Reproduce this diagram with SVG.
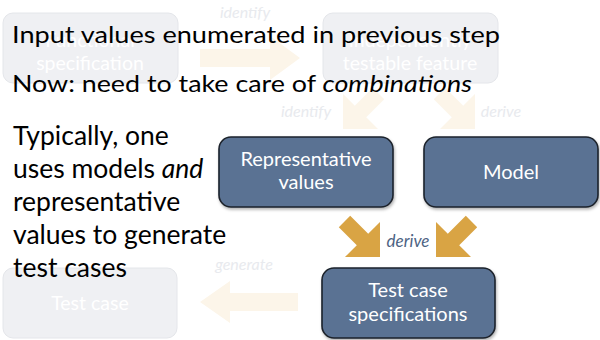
<svg xmlns="http://www.w3.org/2000/svg" width="600" height="340" viewBox="0 0 600 340">
<style>
.fbox{fill:#eff0f3;stroke:#e4e6ea;stroke-width:1}
.ftxt{fill:#ffffff;font-family:Lato,"Open Sans",sans-serif;font-size:19.5px;text-anchor:middle}
.flbl{fill:#e8eaee;font-family:Lato,"Open Sans",sans-serif;font-size:16px;font-style:italic;text-anchor:middle}
.farrow{fill:#fcf5e9}
.node{fill:#5a7293;stroke:#1c222b;stroke-width:1.6}
.ntxt{fill:#ffffff;font-family:Lato,"Open Sans",sans-serif;font-size:20px;text-anchor:middle}
.arrow{fill:#d9a444}
.lbl{fill:#4d6383;font-family:Lato,"Open Sans",sans-serif;font-size:17px;font-style:italic;text-anchor:middle}
.main{fill:#000000;font-family:Lato,"Open Sans",sans-serif;font-size:24px}
.para{fill:#000000;font-family:Lato,"Open Sans",sans-serif;font-size:26.5px}
</style>
<defs>
<filter id="sh" x="-10%" y="-10%" width="130%" height="130%">
<feDropShadow dx="1" dy="2" stdDeviation="1.5" flood-color="#000" flood-opacity="0.3"/>
</filter>
</defs>
<g id="connectors">
<polygon class="farrow" points="200,49 270,49 270,36 300,58 270,80 270,67 200,67"/>
<polygon class="farrow" transform="translate(0,-128)" points="343,257 378,257 366.2,245.2 384.2,227.2 372.8,215.8 354.8,233.8 343,222"/>
<polygon class="farrow" transform="translate(0,-128)" points="475,257 440,257 451.8,245.2 433.8,227.2 445.2,215.8 463.2,233.8 475,222"/>
<polygon class="farrow" points="298,293 230,293 230,281 200,302 230,323 230,311 298,311"/>
<text class="flbl" x="245" y="18">identify</text>
<text class="flbl" x="306" y="117">identify</text>
<text class="flbl" x="501" y="117">derive</text>
<text class="flbl" x="244" y="270">generate</text>
<polygon class="arrow" points="380,257 345,257 356.8,245.2 338.8,227.2 350.2,215.8 368.2,233.8 380,222"/>
<polygon class="arrow" points="436,257 471,257 459.2,245.2 477.2,227.2 465.8,215.8 447.8,233.8 436,222"/>
<text class="lbl" x="408" y="247">derive</text>
</g>
<g id="functional-specification">
<rect class="fbox" x="3" y="13" width="175" height="70" rx="10"/>
<text class="ftxt" x="90" y="47">Functional</text>
<text class="ftxt" x="90" y="70">specification</text>
</g>
<g id="testable-feature">
<rect class="fbox" x="323" y="13" width="175" height="70" rx="10"/>
<text class="ftxt" x="410" y="47">Independently</text>
<text class="ftxt" x="410" y="70">testable feature</text>
</g>
<g id="test-case">
<rect class="fbox" x="3" y="268" width="174" height="70" rx="10"/>
<text class="ftxt" x="90" y="310">Test case</text>
</g>
<g id="representative-values">
<rect class="node" x="219" y="137" width="174" height="70" rx="12" filter="url(#sh)"/>
<text class="ntxt" x="306" y="166">Representative</text>
<text class="ntxt" x="306" y="189">values</text>
</g>
<g id="model">
<rect class="node" x="424" y="137" width="174" height="70" rx="12" filter="url(#sh)"/>
<text class="ntxt" x="511" y="179">Model</text>
</g>
<g id="test-case-specifications">
<rect class="node" x="322" y="268" width="173" height="70" rx="12" filter="url(#sh)"/>
<text class="ntxt" x="408" y="297">Test case</text>
<text class="ntxt" x="408" y="321">specifications</text>
</g>
<g id="text">
<text class="main" x="12" y="43" textLength="488" lengthAdjust="spacingAndGlyphs">Input values enumerated in previous step</text>
<text class="main" x="12" y="92" textLength="460" lengthAdjust="spacingAndGlyphs">Now: need to take care of <tspan font-style="italic">combinations</tspan></text>
<text class="para" x="13" y="145">Typically, one</text>
<text class="para" x="13" y="178">uses models <tspan font-style="italic">and</tspan></text>
<text class="para" x="13" y="211">representative</text>
<text class="para" x="13" y="244">values to generate</text>
<text class="para" x="13" y="277">test cases</text>
</g>
</svg>
